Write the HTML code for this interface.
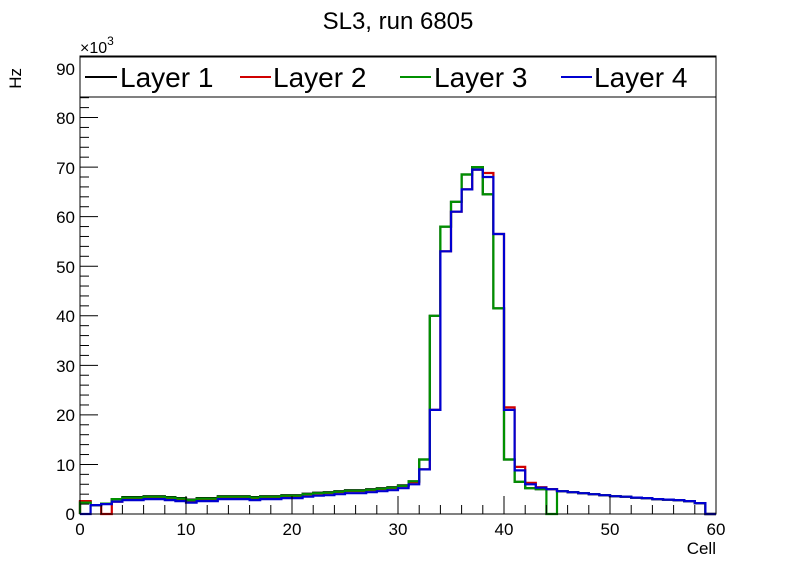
<!DOCTYPE html>
<html><head><meta charset="utf-8"><style>
body{margin:0;background:#fff;}
svg{display:block;font-family:"Liberation Sans",sans-serif;}
</style></head><body>
<svg id="s" width="796" height="572" viewBox="0 0 796 572" xmlns="http://www.w3.org/2000/svg">
<rect width="796" height="572" fill="#fff"/>
<text x="398" y="29" font-size="24" text-anchor="middle">SL3, run 6805</text>
<g id="hist" fill="none" stroke-width="2.2"></g>
<rect x="80" y="56" width="636" height="458" fill="none" stroke="#000" stroke-width="1"/>
<g id="ticks" stroke="#000" stroke-width="1"></g>
<g font-size="17" text-anchor="middle">
<text x="80" y="535">0</text><text x="186" y="535">10</text><text x="292" y="535">20</text>
<text x="398" y="535">30</text><text x="504" y="535">40</text><text x="610" y="535">50</text><text x="716" y="535">60</text>
</g>
<g font-size="17" text-anchor="end">
<text x="75" y="520">0</text><text x="75" y="471">10</text><text x="75" y="421">20</text>
<text x="75" y="372">30</text><text x="75" y="322">40</text><text x="75" y="273">50</text>
<text x="75" y="223">60</text><text x="75" y="174">70</text><text x="75" y="124">80</text><text x="75" y="75">90</text>
</g>
<text x="716" y="554" font-size="17" text-anchor="end">Cell</text>
<text transform="translate(21,68) rotate(-90)" font-size="17" text-anchor="end">Hz</text>
<text x="80" y="53" font-size="16">×10<tspan dy="-8" font-size="12">3</tspan></text>
<rect x="80" y="57" width="636" height="40" fill="#fff" stroke="#000" stroke-width="1"/>
<g font-size="28">
<line x1="85" y1="77" x2="117" y2="77" stroke="#000" stroke-width="2"/><text x="120" y="87">Layer 1</text>
<line x1="240" y1="77" x2="271" y2="77" stroke="#d00000" stroke-width="2"/><text x="273" y="87">Layer 2</text>
<line x1="400" y1="77" x2="431" y2="77" stroke="#009000" stroke-width="2"/><text x="434" y="87">Layer 3</text>
<line x1="561" y1="77" x2="592" y2="77" stroke="#0000d0" stroke-width="2"/><text x="594" y="87">Layer 4</text>
</g>
</svg>
<script>
const X0=80,BW=636/60,Y0=514,SY=4.956;
const base=[0,1.8,2.0,2.5,2.8,2.8,3.0,3.0,2.8,2.6,2.3,2.6,2.6,3.0,3.0,3.0,2.8,3.0,3.0,3.2,3.2,3.5,3.7,3.8,4.0,4.2,4.2,4.4,4.6,4.8,5.2,6.0,9,21,53,61,65.5,69.5,68,56.5,21,8.8,6,5.3,5.0,4.6,4.4,4.2,4.0,3.8,3.6,3.5,3.3,3.2,3.0,2.9,2.8,2.6,2.2,0];
const blue=base.slice();
const red=base.slice();red[0]=2.6;red[1]=1.8;red[2]=0;red[3]=2.5;for(let i=4;i<32;i++)red[i]=base[i]+0.4;red[38]=68.8;red[40]=21.5;red[41]=9.5;red[42]=6.3;red[43]=5.4;
const green=base.slice();green[0]=2.3;green[1]=1.8;green[2]=2.1;for(let i=3;i<32;i++)green[i]=base[i]+0.5;green[31]=6.6;
Object.assign(green,{32:11,33:40,34:58,35:63,36:68.5,37:70,38:64.5,39:41.5,40:11,41:6.5,42:5.2,43:5,44:0});
const black=green.slice();black[44]=5.0;black[0]=2.5;black[3]=3.0;for(let i=4;i<32;i++)black[i]=base[i]+0.6;
function path(d){let p='M'+X0+' '+Y0;for(let i=0;i<60;i++){const y=(Y0-d[i]*SY).toFixed(1);p+=' L'+(X0+i*BW).toFixed(1)+' '+y+' L'+(X0+(i+1)*BW).toFixed(1)+' '+y;}p+=' L716 '+Y0;return p;}
const h=document.getElementById('hist');let s='';
[[black,'#000'],[red,'#d00000'],[green,'#009000'],[blue,'#0000d0']].forEach(([d,c])=>{s+='<path d="'+path(d)+'" stroke="'+c+'"/>';});
h.innerHTML=s;
let t='';
for(let v=0;v<=60;v+=2){const x=X0+v*BW;const L=(v%10==0)?18:9;t+='<line x1="'+x+'" y1="514" x2="'+x+'" y2="'+(514-L)+'"/>';}
for(let v=0;v<=92;v+=2){const y=Y0-v*SY;if(y<97)continue;const L=(v%10==0)?18:9;t+='<line x1="80" y1="'+y+'" x2="'+(80+L)+'" y2="'+y+'"/>';}
document.getElementById('ticks').innerHTML=t;
</script>
</body></html>
